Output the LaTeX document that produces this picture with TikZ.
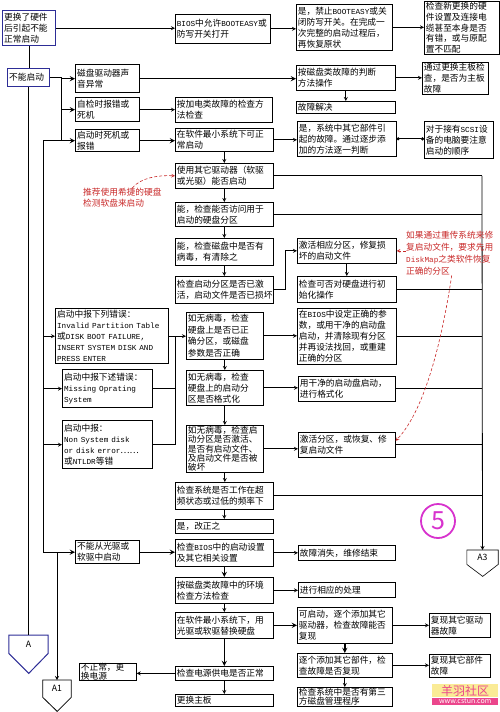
\documentclass[tikz,border=0pt]{standalone}
\usepackage{fontspec}
\setmainfont{Noto Sans CJK SC}
\newfontfamily\monofnt[Scale=0.88]{Liberation Mono}
\newcommand\ltn[1]{{\monofnt #1}}
\usetikzlibrary{arrows.meta}
\definecolor{bordblue}{RGB}{45,45,150}
\definecolor{notered}{RGB}{200,40,40}
\definecolor{fivemag}{RGB}{215,50,205}
\definecolor{wmpink}{RGB}{235,70,140}
\definecolor{wmyellow}{RGB}{250,235,150}
\begin{document}
\begin{tikzpicture}[x=1pt,y=-1pt,
  every node/.style={font=\fontsize{8.7}{11}\selectfont},
  box/.style={draw,line width=0.7pt,anchor=north west,align=left,inner xsep=1.5pt,inner ysep=0pt},
  tbox/.style={box,line width=1.3pt},
  bbox/.style={tbox,draw=bordblue},
  wire/.style={line width=0.8pt},
  con/.style={line width=0.8pt,-stealth},
  tcon/.style={line width=1.3pt,-stealth},
  note/.style={text=notered,anchor=north west,align=left,inner sep=0pt},
  notecon/.style={draw=notered,densely dashed,line width=0.6pt,-stealth},
  offpage/.style={inner sep=0pt,anchor=north}]
\useasboundingbox (0,0) rectangle (500,712);
% left column
\node[bbox,text width=50pt,minimum height=35pt] (hw) at (2,10) {更换了硬件\\后引起不能\\正常启动};
\node[bbox,text width=39pt,minimum height=18pt] (nq) at (7,68) {不能启动};
\node[tbox,text width=61pt,minimum height=28pt] (dsk) at (75,64) {磁盘驱动器声\\音异常};
\node[tbox,text width=61pt,minimum height=24pt] (post) at (75,97) {自检时报错或\\死机};
\node[tbox,text width=61pt,minimum height=22pt] (hang) at (75,129) {启动时死机或\\报错};
\node[tbox,text width=110pt,minimum height=55pt] (err1) at (55,308) {启动中报下列错误：\\\ltn{Invalid Partition Table}\\或\ltn{DISK BOOT FAILURE,}\\\ltn{INSERT SYSTEM DISK AND}\\\ltn{PRESS ENTER}};
\node[tbox,text width=87pt,minimum height=38pt] (err2) at (62,369) {启动中报下述错误：\\\ltn{Missing Oprating}\\\ltn{System}};
\node[tbox,text width=87pt,minimum height=48pt] (err3) at (62,420) {启动中报：\\\ltn{Non System disk}\\\ltn{or disk error}……\\或\ltn{NTLDR}等错};
\node[tbox,text width=61pt,minimum height=23pt] (cd) at (75,540) {不能从光驱或\\软驱中启动};
\node[box,text width=54pt,minimum height=16pt,font=\fontsize{8.7}{8.5}\selectfont] (nopsu) at (79,663) {不正常，更\\换电源};
% middle column
\node[box,text width=92pt,minimum height=29pt] (bios) at (175,14) {\ltn{BIOS}中允许\ltn{BOOTEASY}或\\防写开关打开};
\node[box,text width=94pt,minimum height=25pt] (pwr) at (175,97) {按加电类故障的检查方\\法检查};
\node[box,text width=95pt,minimum height=23pt] (minsys) at (175,128) {在软件最小系统下可正\\常启动};
\node[box,text width=95pt,minimum height=25pt] (drv) at (175,163) {使用其它驱动器（软驱\\或光驱）能否启动};
\node[box,text width=95pt,minimum height=24pt] (acc) at (175,202) {能，检查能否访问用于\\启动的硬盘分区};
\node[box,text width=95pt,minimum height=27pt] (virus) at (175,238) {能，检查磁盘中是否有\\病毒，有清除之};
\node[box,text width=95pt,minimum height=27pt] (bootp) at (175,276) {检查启动分区是否已激\\活，启动文件是否已损坏};
\node[box,text width=74pt,minimum height=47pt,font=\fontsize{8.7}{11.5}\selectfont] (nv1) at (186,312) {如无病毒，检查\\硬盘上是否已正\\确分区，或磁盘\\参数是否正确};
\node[box,text width=74pt,minimum height=35pt] (nv2) at (186,370) {如无病毒，检查\\硬盘上的启动分\\区是否格式化};
\node[box,text width=74pt,minimum height=47pt,font=\fontsize{8.7}{9.3}\selectfont] (nv3) at (186,425) {如无病毒，检查启\\动分区是否激活、\\是否有启动文件、\\及启动文件是否被\\破坏};
\node[box,text width=95pt,minimum height=27pt] (oc) at (175,482) {检查系统是否工作在超\\频状态或过低的频率下};
\node[box,text width=95pt,minimum height=14pt] (ok) at (175,519) {是，改正之};
\node[box,text width=95pt,minimum height=27pt] (biosb) at (175,539) {检查\ltn{BIOS}中的启动设置\\及其它相关设置};
\node[box,text width=95pt,minimum height=26pt] (env) at (175,577) {按磁盘类故障中的环境\\检查方法检查};
\node[box,text width=95pt,minimum height=26pt] (minsys2) at (175,612) {在软件最小系统下，用\\光驱或软驱替换硬盘};
\node[box,text width=95pt,minimum height=14pt] (psu) at (175,666) {检查电源供电是否正常};
\node[box,text width=95pt,minimum height=12pt] (mbx) at (175,694) {更换主板};
% right column
\node[box,text width=93pt,minimum height=46pt] (yes1) at (296,4) {是，禁止\ltn{BOOTEASY}或关\\闭防写开关。在完成一\\次完整的启动过程后，\\再恢复原状};
\node[box,text width=96pt,minimum height=25pt] (dskm) at (296,65) {按磁盘类故障的判断\\方法操作};
\node[box,text width=96pt,minimum height=12pt] (solved) at (296,101) {故障解决};
\node[box,text width=96pt,minimum height=35pt] (other) at (297,121) {是，系统中其它部件引\\起的故障。通过逐步添\\加的方法逐一判断};
\node[box,text width=96pt,minimum height=25pt] (act) at (297,238) {激活相应分区，修复损\\坏的启动文件};
\node[box,text width=96pt,minimum height=26pt] (init) at (297,276) {检查可否对硬盘进行初\\始化操作};
\node[box,text width=96pt,minimum height=56pt] (setp) at (297,308) {在\ltn{BIOS}中设定正确的参\\数，或用干净的启动盘\\启动，并清除现有分区\\并再设法找回，或重建\\正确的分区};
\node[box,text width=94pt,minimum height=25pt] (fmt) at (298,376) {用干净的启动盘启动，\\进行格式化};
\node[box,text width=94pt,minimum height=25pt] (fix) at (298,432) {激活分区，或恢复、修\\复启动文件};
\node[box,text width=94pt,minimum height=15pt] (gone) at (298,545) {故障消失，维修结束};
\node[box,text width=94pt,minimum height=15pt] (handle) at (298,582) {进行相应的处理};
\node[box,text width=92pt,minimum height=36pt] (canb) at (297,607) {可启动，逐个添加其它\\驱动器，检查故障能否\\复现};
\node[box,text width=92pt,minimum height=24pt] (add) at (297,653) {逐个添加其它部件，检\\查故障是否复现};
\node[box,text width=92pt,minimum height=19pt,font=\fontsize{8.7}{9.5}\selectfont] (third) at (297,687) {检查系统中是否有第三\\方磁盘管理程序};
% far right
\node[box,text width=72pt,minimum height=53pt,font=\fontsize{8.7}{10.6}\selectfont] (newhw) at (424,1) {检查新更换的硬\\件设置及连接电\\缆甚至本身是否\\有错，或与原配\\置不匹配};
\node[box,text width=63pt,minimum height=32pt] (mb) at (422,62) {通过更换主板检\\查，是否为主板\\故障};
\node[box,text width=66pt,minimum height=37pt] (scsi) at (424,121) {对于接有\ltn{SCSI}设\\备的电脑要注意\\启动的顺序};
\node[box,text width=58pt,minimum height=24pt] (rdrv) at (429,613) {复现其它驱动\\器故障};
\node[box,text width=58pt,minimum height=23pt] (rpart) at (429,654) {复现其它部件\\故障};
% off-page marks
\node[offpage,minimum width=39pt,minimum height=18pt,text depth=-4pt] (pA) at (28.5,635) {A};
\draw[bordblue,line width=1pt] (pA.north west) -- (pA.north east) -- (pA.south east) -- ++(-19.5,20) -- (pA.south west) -- cycle;
\node[offpage,minimum width=28pt,minimum height=17pt] (pA1) at (57,680) {A1};
\draw[line width=0.8pt] (pA1.north west) -- (pA1.north east) -- (pA1.south east) -- ++(-14,14) -- (pA1.south west) -- cycle;
\node[offpage,minimum width=31pt,minimum height=14pt] (pA3) at (482.5,550) {A3};
\draw[line width=0.6pt] (pA3.north west) -- (pA3.north east) -- (pA3.south east) -- ++(-15.5,12) -- (pA3.south west) -- cycle;
% connectors
\coordinate (busa) at (61,0);
\coordinate (busb) at (43,0);
\coordinate (busc) at (57,0);
\coordinate (busd) at (175,0);
\coordinate (buse) at (482,0);
\draw[wire] (hw.south) -- (hw.south |- nq.north);
\draw[wire] (nq.south) -- (nq.south |- pA.north);
\draw[con] (hw.east) -- (hw.east -| bios.west);
\draw[con] (bios.east) -- (bios.east -| yes1.west);
\draw[con] (yes1.east) -- (yes1.east -| newhw.west);
\draw[wire] (nq.east) -- (nq.east -| busa) -- (busa |- hang.west);
\draw[tcon] (busa |- dsk.west) -- (dsk.west);
\draw[tcon] (busa |- post.west) -- (post.west);
\draw[tcon] (busb |- hang.west) -- (hang.west);
\draw[wire] (busb |- hang.west) -- (busb |- cd.west);
\draw[con] (busb |- err1.west) -- (err1.west);
\draw[con] (busb |- err2.west) -- (err2.west);
\draw[con] (busb |- err3.west) -- (err3.west);
\draw[tcon] (busb |- cd.west) -- (cd.west);
\draw[con] (busc |- cd.west) -- (pA1.north);
\draw[tcon] (dsk.east) -- (dsk.east -| dskm.west);
\draw[con] (dskm.east) -- (dskm.east -| mb.west);
\draw[con] (dskm.south) -- (solved.north);
\draw[con] (post.east) -- (post.east -| pwr.west);
\draw[tcon] (hang.east) -- (hang.east -| minsys.west);
\draw[con] (minsys.east) -- (minsys.east -| other.west);
\draw[wire,{Circle[length=3pt]}-{Circle[length=3pt]}] (other.east) -- (other.east -| scsi.west);
\draw[con] (minsys.south) -- (drv.north);
\draw[con] (drv.south) -- (acc.north);
\draw[con] (acc.south) -- (virus.north);
\draw[con] (virus.south) -- (bootp.north);
\draw[con] (bootp.east) -- ++(12,0) |- (act.west);
\draw[con] (act.south) -- (init.north);
\draw[con] (err1.east) -- (err1.east -| nv1.west);
\draw[wire] (err2.east) -- (busd |- err2.east) -- (busd |- err1.east);
\draw[wire] (err3.east) -- (busd |- err3.east) -- (busd |- err2.east);
\draw[con] (nv1.east) -- (nv1.east -| setp.west);
\draw[con] (nv1.south) -- (nv2.north);
\draw[con] (nv2.east) -- (nv2.east -| fmt.west);
\draw[con] (nv2.south) -- (nv3.north);
\draw[con] (nv3.east) -- (nv3.east -| fix.west);
\draw[con] (nv3.south) -- (nv3.south |- oc.north);
\draw[con] (oc.south) -- (ok.north);
\draw[wire] (drv.east) -- (buse |- drv.east);
\draw[wire] (acc.east) -- (buse |- acc.east);
\draw[wire] (init.east) -- (buse |- init.east);
\draw[wire] (setp.east) -- (buse |- setp.east);
\draw[wire] (fmt.east) -- (buse |- fmt.east);
\draw[wire] (fix.east) -- (buse |- fix.east);
\draw[wire] (oc.east) -- (buse |- oc.east);
\draw[con] (buse |- drv.east) -- (pA3.north);
\draw[tcon] (cd.east) -- (cd.east -| biosb.west);
\draw[con] (biosb.east) -- (biosb.east -| gone.west);
\draw[tcon] (biosb.south) -- (env.north);
\draw[con] (env.east) -- (env.east -| handle.west);
\draw[con] (env.south) -- (minsys2.north);
\draw[tcon] (minsys2.east) -- (minsys2.east -| canb.west);
\draw[tcon] (minsys2.south) -- (psu.north);
\draw[con] (psu.west) -- (psu.west -| nopsu.east);
\draw[con] (psu.south) -- (mbx.north);
\draw[con] (canb.east) -- (canb.east -| rdrv.west);
\draw[tcon] (canb.south) -- (add.north);
\draw[con] (add.east) -- (add.east -| rpart.west);
\draw[con] (add.south) -- (third.north);
% red notes
\node[note] (tip1) at (83,188) {推荐使用希捷的硬盘\\检测软盘来启动};
\draw[notecon] ([xshift=10pt]tip1.north) .. controls (140,178) and (158,175) .. (drv.west);
\node[note,font=\fontsize{8.7}{12}\selectfont] (tip2) at (406,231) {如果通过重传系统来修\\复启动文件，要求先用\\\ltn{DiskMap}之类软件恢复\\正确的分区};
\draw[notecon] (tip2.west |- act.east) -- (act.east);
\draw[notecon] ([xshift=2pt]tip2.south) .. controls (442,340) and (425,410) .. ([yshift=4pt]fix.east);
\node[circle,draw=fivemag,line width=1.8pt,minimum size=34pt,inner sep=0pt,text=fivemag,font=\fontsize{25}{25}\selectfont] (five) at (438,521) {5};
\node[fill=wmyellow,text=wmpink,anchor=north west,inner sep=1pt,minimum width=66pt,font=\fontsize{12}{12}\selectfont] (wm) at (432,684) {羊羽社区};
\node[fill=wmpink,text=white,anchor=north,inner sep=1pt,minimum width=66pt,font=\fontsize{7}{7}\selectfont] (wmurl) at (wm.south) {www.cstun.com};
\end{tikzpicture}
\end{document}
